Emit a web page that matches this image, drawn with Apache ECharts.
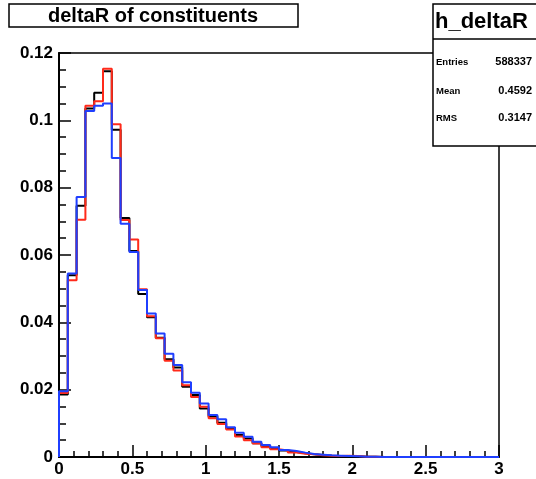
<!DOCTYPE html>
<html>
<head>
<meta charset="utf-8">
<script src="https://cdn.jsdelivr.net/npm/echarts@6/dist/echarts.min.js"></script>
<style>
  html, body { margin: 0; padding: 0; background: #fff; }
  #chart { width: 536px; height: 479px; }
</style>
</head>
<body>
<div id="chart"></div>
<script>
// deltaR histograms, 50 bins of 0.06 over [0, 3]
const binWidth = 0.06
const nBins = 50

const blackVals = [0.0186, 0.0540, 0.0746, 0.1035, 0.1082, 0.1146, 0.0972, 0.0710, 0.0612, 0.0484,
  0.0415, 0.0354, 0.0290, 0.0266, 0.0209, 0.0184, 0.0144, 0.0120, 0.0102, 0.0085,
  0.0065, 0.0055, 0.0041, 0.0033, 0.0025, 0.0019, 0.0015, 0.0011, 0.0008, 0.0006,
  0.0004, 0.0003, 0.0002, 0.0002, 0.0001, 0.0001]
const redVals = [0.0190, 0.0525, 0.0705, 0.1043, 0.1057, 0.1153, 0.0988, 0.0704, 0.0646, 0.0498,
  0.0418, 0.0353, 0.0286, 0.0257, 0.0213, 0.0178, 0.0149, 0.0115, 0.0098, 0.0082,
  0.0061, 0.0050, 0.0040, 0.0029, 0.0023, 0.0019, 0.0013, 0.0010, 0.0008, 0.0005,
  0.0004, 0.0003, 0.0004, 0.0003, 0.0001, 0.0001]
const blueVals = [0.0195, 0.0545, 0.0772, 0.1028, 0.1043, 0.1050, 0.0888, 0.0693, 0.0609, 0.0496,
  0.0426, 0.0367, 0.0307, 0.0273, 0.0222, 0.0191, 0.0159, 0.0125, 0.0112, 0.0088,
  0.0072, 0.0060, 0.0045, 0.0036, 0.0029, 0.0021, 0.0018, 0.0013, 0.0009, 0.0007,
  0.0005, 0.0004, 0.0003, 0.0002, 0.0001, 0.0001]

const xTicks = [0, 0.5, 1, 1.5, 2, 2.5, 3]
const yTicks = [0, 0.02, 0.04, 0.06, 0.08, 0.1, 0.12]

const titleText = "deltaR of constituents"
const statsName = "h_deltaR"
const statsRows = [["Entries", "588337"], ["Mean", "0.4592"], ["RMS", "0.3147"]]

const FONT = "Liberation Sans, Arial, sans-serif"

// histogram outline: points at bin low edges, stepped at the end
function histPoints(vals) {
  const pts = [[0, 0]]
  for (let i = 0; i < nBins; i++) {
    pts.push([+(i * binWidth).toFixed(2), vals[i] || 0])
  }
  pts.push([nBins * binWidth, 0])
  return pts
}

function histSeries(name, vals, color) {
  return {
    name,
    type: "line",
    step: "end",
    data: histPoints(vals),
    showSymbol: false,
    symbol: "none",
    lineStyle: { color, width: 2 },
    clip: false,
  }
}

const chart = echarts.init(document.getElementById("chart"), null, { renderer: "canvas" })

const statsGraphic = [
  {
    type: "rect",
    shape: { x: 433, y: 4, width: 110, height: 142 },
    style: { fill: "#fff", stroke: "#000", lineWidth: 1.5 },
    z: 100,
  },
  {
    type: "line",
    shape: { x1: 433, y1: 39, x2: 536, y2: 39 },
    style: { stroke: "#000", lineWidth: 1.5 },
    z: 101,
  },
  {
    type: "text",
    x: 435, y: 22,
    style: { text: statsName, font: "bold 22px " + FONT, fill: "#000", textVerticalAlign: "middle" },
    z: 101,
  },
]
const rowY = [62, 91, 118]
statsRows.forEach((r, i) => {
  statsGraphic.push({
    type: "text", x: 436, y: rowY[i],
    style: { text: r[0], font: "bold 9.5px " + FONT, fill: "#000", textVerticalAlign: "middle" },
    z: 101,
  })
  statsGraphic.push({
    type: "text", x: 532, y: rowY[i],
    style: { text: r[1], font: "bold 11px " + FONT, fill: "#000", textAlign: "right", textVerticalAlign: "middle" },
    z: 101,
  })
})

chart.setOption({
  animation: false,
  backgroundColor: "#fff",
  grid: {
    left: 59, right: 37, top: 53, bottom: 22,
    show: true, borderColor: "#000", borderWidth: 1.5, backgroundColor: "transparent",
  },
  xAxis: {
    type: "value",
    min: xTicks[0], max: xTicks[xTicks.length - 1], interval: 0.5,
    axisLine: { show: true, onZero: false, lineStyle: { color: "#000", width: 2 } },
    axisTick: { show: true, inside: true, length: 12, lineStyle: { color: "#000", width: 1.5 } },
    minorTick: { show: true, splitNumber: 5, length: 6, lineStyle: { color: "#000", width: 1.5 } },
    axisLabel: {
      color: "#000", fontFamily: FONT, fontWeight: "bold", fontSize: 17, margin: 4,
      formatter: (v) => String(v),
    },
    splitLine: { show: false },
  },
  yAxis: {
    type: "value",
    min: yTicks[0], max: yTicks[yTicks.length - 1], interval: 0.02,
    axisLine: { show: true, onZero: false, lineStyle: { color: "#000", width: 2 } },
    axisTick: { show: true, inside: true, length: 12, lineStyle: { color: "#000", width: 1.5 } },
    minorTick: { show: true, splitNumber: 4, length: 7, lineStyle: { color: "#000", width: 1.5 } },
    axisLabel: {
      color: "#000", fontFamily: FONT, fontWeight: "bold", fontSize: 17, margin: 6,
      formatter: (v) => String(+v.toFixed(2)),
    },
    splitLine: { show: false },
  },
  graphic: [
    {
      type: "rect",
      shape: { x: 9, y: 4, width: 289, height: 23 },
      style: { fill: "#fff", stroke: "#000", lineWidth: 1.5 },
      z: 100,
    },
    {
      type: "text",
      x: 153, y: 16,
      style: {
        text: titleText, font: "bold 20px " + FONT, fill: "#000",
        textAlign: "center", textVerticalAlign: "middle",
      },
      z: 101,
    },
    ...statsGraphic,
  ],
  series: [
    histSeries("black", blackVals, "#000000"),
    histSeries("red", redVals, "#ff2a1a"),
    histSeries("blue", blueVals, "#1f3fff"),
  ],
})
</script>
</body>
</html>
